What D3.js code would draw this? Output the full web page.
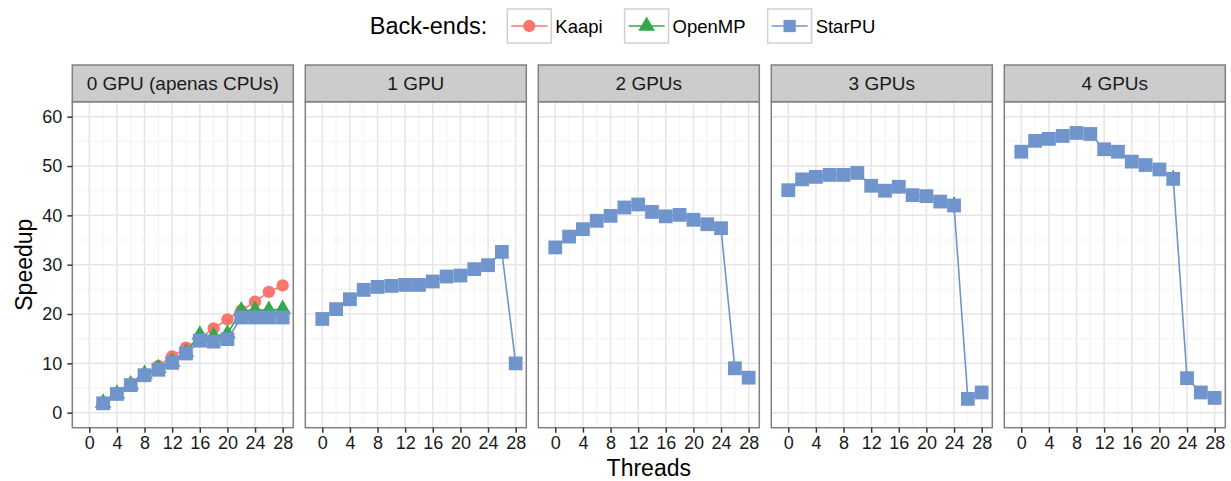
<!DOCTYPE html>
<html><head><meta charset="utf-8">
<script src="https://cdn.jsdelivr.net/npm/d3@7"></script>
<style>body{margin:0;background:#fff}svg{display:block;font-family:"Liberation Sans",Arial,Helvetica,sans-serif}</style>
</head><body><svg id="c" width="1231" height="481"></svg>
<script>
const panels = ["0 GPU (apenas CPUs)", "1 GPU", "2 GPUs", "3 GPUs", "4 GPUs"];
const backends = ["Kaapi", "OpenMP", "StarPU"];
const colors = ["#F8766D", "#33A84C", "#7094CC"];
const threads0 = [2,4,6,8,10,12,14,16,18,20,22,24,26,28];
const threadsG = [0,2,4,6,8,10,12,14,16,18,20,22,24,26,28];
const kaapi0  = [2.0,3.9,5.6,7.4,9.5,11.4,13.2,15.0,17.1,18.9,20.7,22.5,24.5,25.8];
const openmp0 = [2.0,3.8,5.7,7.8,9.0,10.3,12.2,15.8,15.5,16.0,20.7,20.8,20.8,21.0];
const starpu0 = [1.9,3.8,5.6,7.6,8.7,10.1,12.0,14.6,14.4,14.9,19.3,19.3,19.3,19.3];
const starpu1 = [19.0,21.0,23.0,24.9,25.5,25.7,25.9,25.9,26.6,27.6,27.8,29.1,29.9,32.6,10.0];
const starpu2 = [33.5,35.7,37.2,38.9,39.9,41.6,42.2,40.7,39.8,40.1,39.1,38.2,37.4,9.0,7.1];
const starpu3 = [45.1,47.3,47.8,48.2,48.2,48.6,46.0,45.0,45.8,44.1,43.9,42.8,42.0,2.8,4.1];
const starpu4 = [52.9,55.1,55.5,56.1,56.7,56.5,53.4,52.9,50.9,50.2,49.3,47.4,7.0,4.1,3.0];
// visible error bars: [panel, threads, low, high]
const starpuErr = [[3,24,40.6,43.7],[4,22,46.0,49.1]];
const yTicks = [0,10,20,30,40,50,60];
const xTicks = [0,4,8,12,16,20,24,28];

const series = [
  [{b:0, x:threads0, y:kaapi0},{b:1, x:threads0, y:openmp0},{b:2, x:threads0, y:starpu0}],
  [{b:2, x:threadsG, y:starpu1}],
  [{b:2, x:threadsG, y:starpu2}],
  [{b:2, x:threadsG, y:starpu3}],
  [{b:2, x:threadsG, y:starpu4}]
];

(function draw(){
const svg = d3.select("#c");
const pW = 221, step = 233, left0 = 72.3, pTop = 101.7, pBot = 427.7, stripTop = 65;
const y = d3.scaleLinear().domain([-3.04, 63.04]).range([pBot, pTop]);
const gridMinor = "#f3f3f3", gridMajor = "#e6e6e6", border = "#808080";
const FONT = "Liberation Sans, Arial, sans-serif";

panels.forEach((name, i) => {
  const L = left0 + i*step;
  const x = d3.scaleLinear().domain([-2.46, 29.54]).range([L, L+pW]);
  const g = svg.append("g");
  const yMinor = [5,15,25,35,45,55];
  const xMinor = [2,6,10,14,18,22,26];
  g.selectAll(null).data(yMinor).join("line").attr("x1",L).attr("x2",L+pW).attr("y1",d=>y(d)).attr("y2",d=>y(d)).attr("stroke",gridMinor).attr("stroke-width",1);
  g.selectAll(null).data(xMinor).join("line").attr("y1",pTop).attr("y2",pBot).attr("x1",d=>x(d)).attr("x2",d=>x(d)).attr("stroke",gridMinor).attr("stroke-width",1);
  g.selectAll(null).data(yTicks).join("line").attr("x1",L).attr("x2",L+pW).attr("y1",d=>y(d)).attr("y2",d=>y(d)).attr("stroke",gridMajor).attr("stroke-width",1.5);
  g.selectAll(null).data(xTicks).join("line").attr("y1",pTop).attr("y2",pBot).attr("x1",d=>x(d)).attr("x2",d=>x(d)).attr("stroke",gridMajor).attr("stroke-width",1.5);

  g.selectAll(null).data(starpuErr.filter(e=>e[0]===i)).join("line")
    .attr("x1",d=>x(d[1])).attr("x2",d=>x(d[1])).attr("y1",d=>y(d[2])).attr("y2",d=>y(d[3]))
    .attr("stroke","#222").attr("stroke-width",1.2);

  series[i].forEach(s => {
    const pts = s.x.map((t,k)=>[t, s.y[k]]);
    const col = colors[s.b];
    g.append("path").datum(pts).attr("fill","none").attr("stroke",col).attr("stroke-width",1.6)
      .attr("d", d3.line().x(d=>x(d[0])).y(d=>y(d[1])));
    const sym = s.b===0 ? d3.symbol(d3.symbolCircle, 120) : s.b===1 ? d3.symbol(d3.symbolTriangle, 120) : d3.symbol(d3.symbolSquare, 190);
    g.selectAll(null).data(pts).join("path").attr("d", sym)
      .attr("transform", d=>`translate(${x(d[0])},${y(d[1])})`).attr("fill",col);
  });

  g.append("rect").attr("x",L).attr("y",pTop).attr("width",pW).attr("height",pBot-pTop).attr("fill","none").attr("stroke",border).attr("stroke-width",1.5);
  g.append("rect").attr("x",L).attr("y",stripTop).attr("width",pW).attr("height",pTop-stripTop).attr("fill","#cccccc").attr("stroke",border).attr("stroke-width",1.5);
  g.append("text").attr("x",L+pW/2).attr("y",(stripTop+pTop)/2+7).attr("text-anchor","middle").attr("font-size",19).attr("fill","#1a1a1a").text(name);

  const xa = svg.append("g").attr("transform",`translate(0,${pBot})`).call(d3.axisBottom(x).tickValues(xTicks).tickSize(5).tickPadding(4));
  xa.select(".domain").remove();
  xa.selectAll("line").attr("stroke","#333").attr("stroke-width",1.5);
  xa.selectAll("text").attr("font-size",18).attr("fill","#1a1a1a").attr("font-family",FONT);
});

const ya = svg.append("g").attr("transform",`translate(${left0},0)`).call(d3.axisLeft(y).tickValues(yTicks).tickSize(5).tickPadding(5));
ya.select(".domain").remove();
ya.selectAll("line").attr("stroke","#333").attr("stroke-width",1.5);
ya.selectAll("text").attr("font-size",18).attr("fill","#1a1a1a").attr("font-family",FONT);

svg.append("text").attr("x", (left0 + left0+4*step+pW)/2).attr("y",476).attr("text-anchor","middle").attr("font-size",23).text("Threads");
svg.append("text").attr("transform",`translate(32,${(pTop+pBot)/2}) rotate(-90)`).attr("text-anchor","middle").attr("font-size",23).text("Speedup");

const lg = svg.append("g");
const title = lg.append("text").attr("x",0).attr("y",34).attr("font-size",23.5).text("Back-ends:");
const gapT = 20, gapI = 22;
let cx = title.node().getComputedTextLength() + gapT;
const kW = 44, kH = 34, kY = 9;
backends.forEach((b,k) => {
  const col = colors[k];
  lg.append("rect").attr("x",cx).attr("y",kY).attr("width",kW).attr("height",kH).attr("fill","#fff").attr("stroke","#d0d0d0").attr("stroke-width",1.5);
  lg.append("line").attr("x1",cx+4).attr("x2",cx+kW-4).attr("y1",kY+kH/2).attr("y2",kY+kH/2).attr("stroke",col).attr("stroke-width",1.6);
  const sym = k===0 ? d3.symbol(d3.symbolCircle, 120) : k===1 ? d3.symbol(d3.symbolTriangle, 120) : d3.symbol(d3.symbolSquare, 150);
  lg.append("path").attr("d",sym).attr("transform",`translate(${cx+kW/2},${kY+kH/2})`).attr("fill",col);
  const t = lg.append("text").attr("x",cx+kW+4).attr("y",33).attr("font-size",18.5).text(b);
  cx += kW + 4 + t.node().getComputedTextLength() + gapI;
});
const totalW = cx - gapI;
lg.attr("transform",`translate(${622.5 - totalW/2},0)`);
})();
</script></body></html>
